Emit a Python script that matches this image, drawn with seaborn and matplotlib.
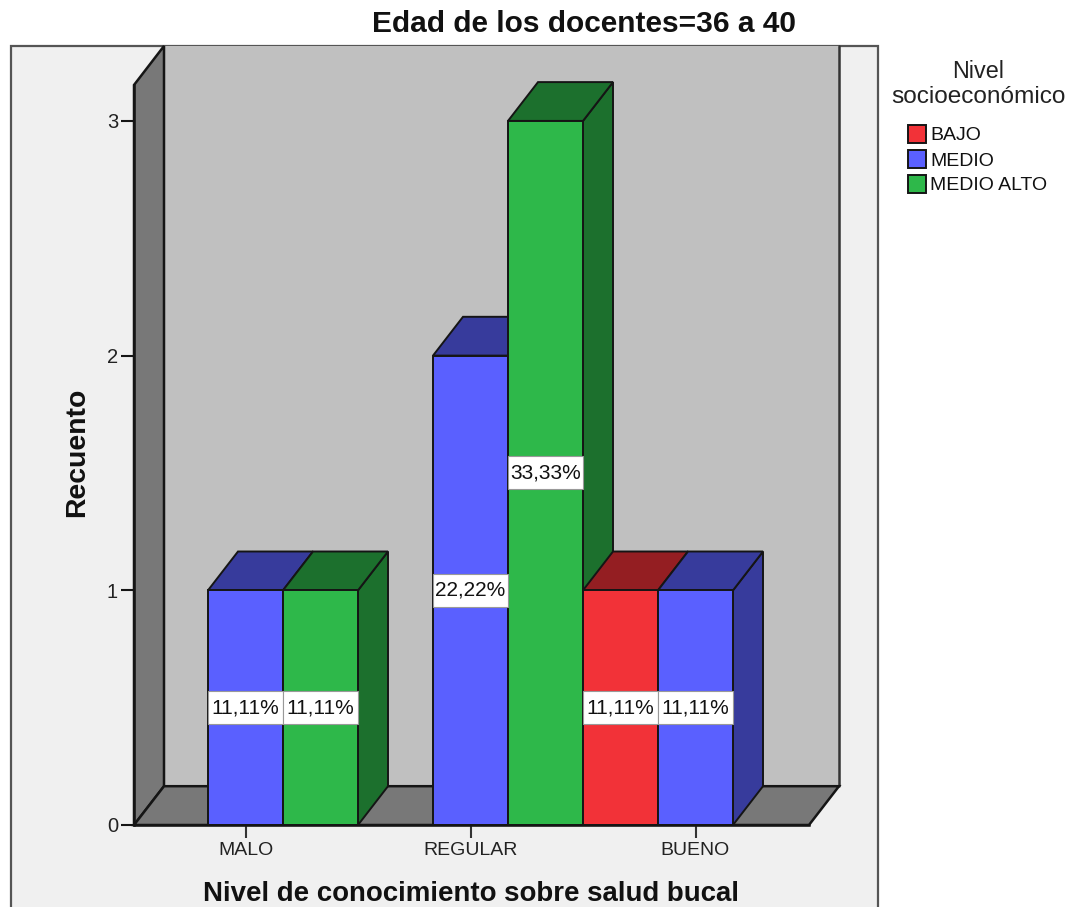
import matplotlib
matplotlib.use("Agg")
import matplotlib.pyplot as plt
from matplotlib.colors import to_rgb
from matplotlib.patches import Polygon, Rectangle
import pandas as pd
import seaborn as sns

nivel_conocimiento = ["MALO", "REGULAR", "BUENO"]
nivel_socio = ["BAJO", "MEDIO", "MEDIO ALTO"]
filas_conocimiento = ["MALO", "MALO", "REGULAR", "REGULAR", "BUENO", "BUENO"]
filas_socio = ["MEDIO", "MEDIO ALTO", "MEDIO", "MEDIO ALTO", "BAJO", "MEDIO"]
recuento = [1, 1, 2, 3, 1, 1]
colores = {"BAJO": "#f23238", "MEDIO": "#5a60ff", "MEDIO ALTO": "#2eb84a"}

W, H = 1075, 907
LEFT, RIGHT, BASE, TOP = 134, 809, 825, 85
PX_PER_UNIT = 234.7
PX_PER_CAT = 225.0
DEPTH_X, DEPTH_Y = 30 / PX_PER_CAT, 38.8 / PX_PER_UNIT
EDGE = "#151515"

sns.set_theme(style="white")
plt.rcParams["font.family"] = ["Liberation Sans", "DejaVu Sans"]

fig = plt.figure(figsize=(W / 100, H / 100), dpi=100, facecolor="white")


def fx(px):
    return px / W


def fy(px):
    return 1 - px / H


# Outer panel, running off the bottom of the figure
fig.add_artist(Rectangle((fx(10.5), fy(920)), fx(867), 874 / H, transform=fig.transFigure,
                         facecolor="#f0f0f0", edgecolor="#555555", linewidth=1.6, zorder=-1))

ax = fig.add_axes([fx(LEFT), fy(BASE), fx(RIGHT - LEFT), (BASE - TOP) / H])
ax.patch.set_alpha(0)

datos = pd.DataFrame({"conocimiento": filas_conocimiento, "socio": filas_socio, "recuento": recuento})
sns.barplot(data=datos, x="conocimiento", y="recuento", hue="socio",
            order=nivel_conocimiento, hue_order=nivel_socio, palette=colores,
            width=1, gap=0, saturation=1, errorbar=None, legend=False,
            edgecolor=EDGE, linewidth=1.4, ax=ax)
barras = sorted(ax.patches, key=lambda p: p.get_x())

x0 = -0.5 + (LEFT - (245.5 - PX_PER_CAT / 2)) / PX_PER_CAT
x1 = x0 + (RIGHT - LEFT) / PX_PER_CAT
y1 = (BASE - TOP) / PX_PER_UNIT
ax.set_xlim(x0, x1)
ax.set_ylim(0, y1)

# Walls and floor of the box
wall_top = (BASE - 46) / PX_PER_UNIT
caja = dict(edgecolor=EDGE, linewidth=1.8, clip_on=False, joinstyle="miter")
ax.add_patch(Polygon([(x0 + DEPTH_X, DEPTH_Y), (x1 + DEPTH_X, DEPTH_Y), (x1 + DEPTH_X, wall_top),
                      (x0 + DEPTH_X, wall_top)], facecolor="#c0c0c0", zorder=0.2,
                     **{**caja, "edgecolor": "none"}))
ax.plot([x1 + DEPTH_X, x1 + DEPTH_X], [DEPTH_Y, wall_top], color="#333333", lw=1.8,
        clip_on=False, zorder=0.3)
ax.add_patch(Polygon([(x0, 0), (x0 + DEPTH_X, DEPTH_Y), (x0 + DEPTH_X, wall_top), (x0, y1)],
                     facecolor="#787878", zorder=0.4, **caja))
ax.add_patch(Polygon([(x0, 0), (x0 + DEPTH_X, DEPTH_Y), (x1 + DEPTH_X, DEPTH_Y), (x1, 0)],
                     facecolor="#787878", zorder=0.5, **caja))

# Extruded sides and tops, painted left to right so each bar covers the one behind it
total = sum(recuento)
CAJA_H = 33 / PX_PER_UNIT
for i, barra in enumerate(barras):
    x, w, h = barra.get_x(), barra.get_width(), barra.get_height()
    color = to_rgb(barra.get_facecolor()[:3])
    oscuro = tuple(c * 0.61 for c in color)
    z = 1 + i
    estilo = dict(facecolor=oscuro, edgecolor=EDGE, linewidth=1.4, zorder=z, clip_on=False)
    ax.add_patch(Polygon([(x + w, 0), (x + w + DEPTH_X, DEPTH_Y), (x + w + DEPTH_X, h + DEPTH_Y), (x + w, h)], **estilo))
    ax.add_patch(Polygon([(x, h), (x + DEPTH_X, h + DEPTH_Y), (x + w + DEPTH_X, h + DEPTH_Y), (x + w, h)], **estilo))
    barra.set_zorder(z + 0.1)
    barra.set_clip_on(False)

# Percentage labels sit on white boxes above every bar
for barra in barras:
    x, w, h = barra.get_x(), barra.get_width(), barra.get_height()
    ax.add_patch(Rectangle((x, h / 2 - CAJA_H / 2), w, CAJA_H, facecolor="white",
                           edgecolor="#999999", linewidth=0.8, zorder=50))
    ax.text(x + w / 2, h / 2, f"{h / total * 100:.2f}%".replace(".", ","), ha="center", va="center",
            fontsize=15, color="#111111", zorder=51)

sns.despine(ax=ax, top=True, right=True)
for lado in ("left", "bottom"):
    ax.spines[lado].set_linewidth(1.8)
    ax.spines[lado].set_color(EDGE)
    ax.spines[lado].set_zorder(40)

ax.set_yticks([0, 1, 2, 3])
ax.set_xticks(range(len(nivel_conocimiento)), nivel_conocimiento)
ax.tick_params(axis="y", length=9.5, width=1.5, color=EDGE, pad=2, labelsize=14.5, labelcolor="#222222", left=True)
ax.tick_params(axis="x", length=9, width=1.5, color="#333333", pad=3, labelsize=14, labelcolor="#222222", bottom=True)
ax.set_xlabel("")
ax.set_ylabel("")

fig.text(fx(584), fy(24), "Edad de los docentes=36 a 40", ha="center", va="center",
         fontsize=21.5, fontweight="bold", color="#111111")
fig.text(fx(471), fy(894), "Nivel de conocimiento sobre salud bucal", ha="center", va="center",
         fontsize=19.9, fontweight="bold", color="#111111")
fig.text(fx(77), fy(452), "Recuento", rotation=90, ha="center", va="center",
         fontsize=20.4, fontweight="bold", color="#111111")

# Legend block
fig.text(fx(978), fy(72), "Nivel", ha="center", va="center", fontsize=16.8, color="#222222")
fig.text(fx(978), fy(97), "socioeconómico", ha="center", va="center", fontsize=17.6, color="#222222")
for nombre, py in zip(nivel_socio, [134, 159, 184]):
    fig.add_artist(Rectangle((fx(908), fy(py + 9)), 18 / W, 18 / H, transform=fig.transFigure,
                             facecolor=colores[nombre], edgecolor=EDGE, linewidth=1.4))
    fig.text(fx(930), fy(py + 2), nombre, ha="left", va="center", fontsize=14, color="#111111")

fig.savefig("out.png", dpi=100)
